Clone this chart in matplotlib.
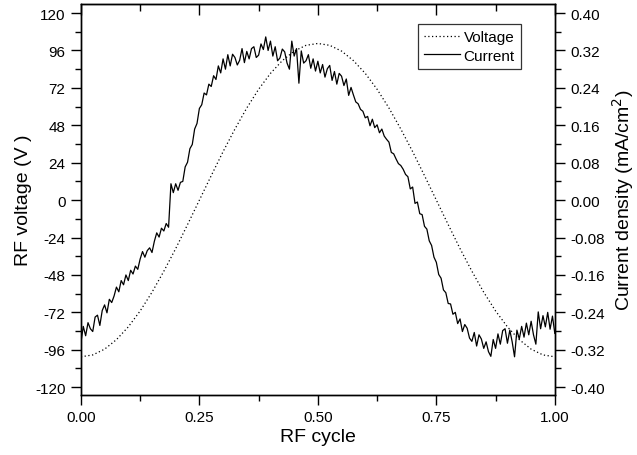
import matplotlib
matplotlib.use("Agg")
import matplotlib.pyplot as plt
from matplotlib.ticker import MultipleLocator

plt.rcParams['font.family'] = ['Liberation Sans', 'DejaVu Sans']

# RF voltage (V) read at 0.025 steps of RF cycle
volt_x = [i * 0.025 for i in range(41)]
volt_v = [-100.5, -99.3, -95.6, -89.5, -81.3, -71.1, -59.1, -45.6, -31.1, -15.7,
          0.0, 15.7, 31.1, 45.6, 59.1, 71.1, 81.3, 89.5, 95.6, 99.3,
          100.5, 99.3, 95.6, 89.5, 81.3, 71.1, 59.1, 45.6, 31.1, 15.7,
          0.0, -15.7, -31.1, -45.6, -59.1, -71.1, -81.3, -89.5, -95.6, -99.3, -100.5]

# Current density (mA/cm^2) read at 0.005 steps of RF cycle
cur_x = [i * 0.005 for i in range(201)]
cur_j = [-0.305, -0.270, -0.290, -0.262, -0.275, -0.281, -0.250, -0.246, -0.268, -0.236,
         -0.224, -0.241, -0.212, -0.219, -0.205, -0.186, -0.196, -0.172, -0.181, -0.160,
         -0.172, -0.150, -0.158, -0.141, -0.148, -0.126, -0.110, -0.122, -0.108, -0.102,
         -0.112, -0.088, -0.070, -0.079, -0.060, -0.066, -0.050, -0.058, 0.035, 0.016,
         0.035, 0.021, 0.038, 0.040, 0.071, 0.081, 0.110, 0.119, 0.152, 0.164,
         0.196, 0.204, 0.229, 0.225, 0.248, 0.243, 0.266, 0.258, 0.287, 0.272,
         0.302, 0.280, 0.311, 0.287, 0.312, 0.305, 0.289, 0.299, 0.324, 0.294,
         0.318, 0.302, 0.324, 0.328, 0.305, 0.310, 0.334, 0.322, 0.349, 0.320,
         0.340, 0.308, 0.328, 0.298, 0.304, 0.323, 0.317, 0.293, 0.280, 0.340,
         0.308, 0.324, 0.250, 0.319, 0.293, 0.298, 0.311, 0.282, 0.302, 0.276,
         0.297, 0.272, 0.290, 0.263, 0.281, 0.288, 0.256, 0.275, 0.248, 0.271,
         0.265, 0.245, 0.259, 0.224, 0.241, 0.225, 0.210, 0.206, 0.194, 0.190,
         0.176, 0.179, 0.159, 0.173, 0.155, 0.161, 0.144, 0.152, 0.137, 0.130,
         0.124, 0.102, 0.099, 0.088, 0.078, 0.074, 0.066, 0.055, 0.050, 0.024,
         0.028, -0.007, -0.004, -0.029, -0.031, -0.056, -0.062, -0.087, -0.097, -0.122,
         -0.133, -0.159, -0.167, -0.192, -0.198, -0.221, -0.222, -0.244, -0.240, -0.264,
         -0.254, -0.281, -0.266, -0.274, -0.295, -0.302, -0.283, -0.312, -0.288, -0.297,
         -0.317, -0.303, -0.324, -0.334, -0.298, -0.317, -0.286, -0.308, -0.279, -0.275,
         -0.306, -0.278, -0.303, -0.335, -0.278, -0.297, -0.270, -0.293, -0.263, -0.288,
         -0.259, -0.288, -0.308, -0.239, -0.275, -0.247, -0.271, -0.240, -0.276, -0.248,
         -0.285]

x_ticks = [0.0, 0.25, 0.5, 0.75, 1.0]
x_ticklabels = ["0.00", "0.25", "0.50", "0.75", "1.00"]
v_ticks = [120, 96, 72, 48, 24, 0, -24, -48, -72, -96, -120]
j_ticks = [0.40, 0.32, 0.24, 0.16, 0.08, 0.00, -0.08, -0.16, -0.24, -0.32, -0.40]

fig = plt.figure(figsize=(6.37, 4.56), dpi=100)
ax = fig.add_axes([0.127, 0.1316, 0.744, 0.8574])
ax2 = ax.twinx()

vlim = (-125.0, 125.8)
ax.set_xlim(0, 1)
ax.set_ylim(*vlim)
ax2.set_ylim(vlim[0] / 300.0, vlim[1] / 300.0)

lv, = ax.plot(volt_x, volt_v, color='black', linestyle=(0, (1, 2)), linewidth=0.9, label='Voltage')
lc, = ax2.plot(cur_x, cur_j, color='black', linestyle='-', linewidth=0.9, label='Current')

ax.set_xticks(x_ticks)
ax.set_xticklabels(x_ticklabels)
ax.xaxis.set_minor_locator(MultipleLocator(0.125))
ax.set_yticks(v_ticks)
ax.set_yticklabels([str(v) for v in v_ticks])
ax.yaxis.set_minor_locator(MultipleLocator(12))
ax2.set_yticks(j_ticks)
ax2.set_yticklabels(["%.2f" % v for v in j_ticks])
ax2.yaxis.set_minor_locator(MultipleLocator(0.04))

for a in (ax, ax2):
    a.tick_params(which='major', direction='out', length=7, width=1.0, labelsize=11,
                  colors='black', pad=4)
    a.tick_params(which='minor', direction='out', length=4, width=1.0)
    for s in a.spines.values():
        s.set_linewidth(1.0)

# top mirrored ticks pointing inward
top = ax.secondary_xaxis('top')
top.set_xticks(x_ticks)
top.xaxis.set_minor_locator(MultipleLocator(0.125))
top.tick_params(which='major', direction='in', length=8, width=1.0, labeltop=False)
top.tick_params(which='minor', direction='in', length=5, width=1.0)
top.set_xticklabels([])

ax.set_xlabel("RF cycle", fontsize=14, labelpad=3)
ax.set_ylabel("RF voltage (V )", fontsize=14, labelpad=2)
ax2.set_ylabel("Current density (mA/cm$^2$)", fontsize=14, labelpad=4)

leg = ax2.legend([lv, lc], ['Voltage', 'Current'], loc='upper right',
                 bbox_to_anchor=(0.928, 0.949), fontsize=11, frameon=True,
                 fancybox=False, edgecolor='black', borderpad=0.4,
                 handlelength=2.4, handletextpad=0.2, labelspacing=0.3, borderaxespad=0.0)
leg.get_frame().set_linewidth(0.9)

fig.savefig("out.png", dpi=100)
